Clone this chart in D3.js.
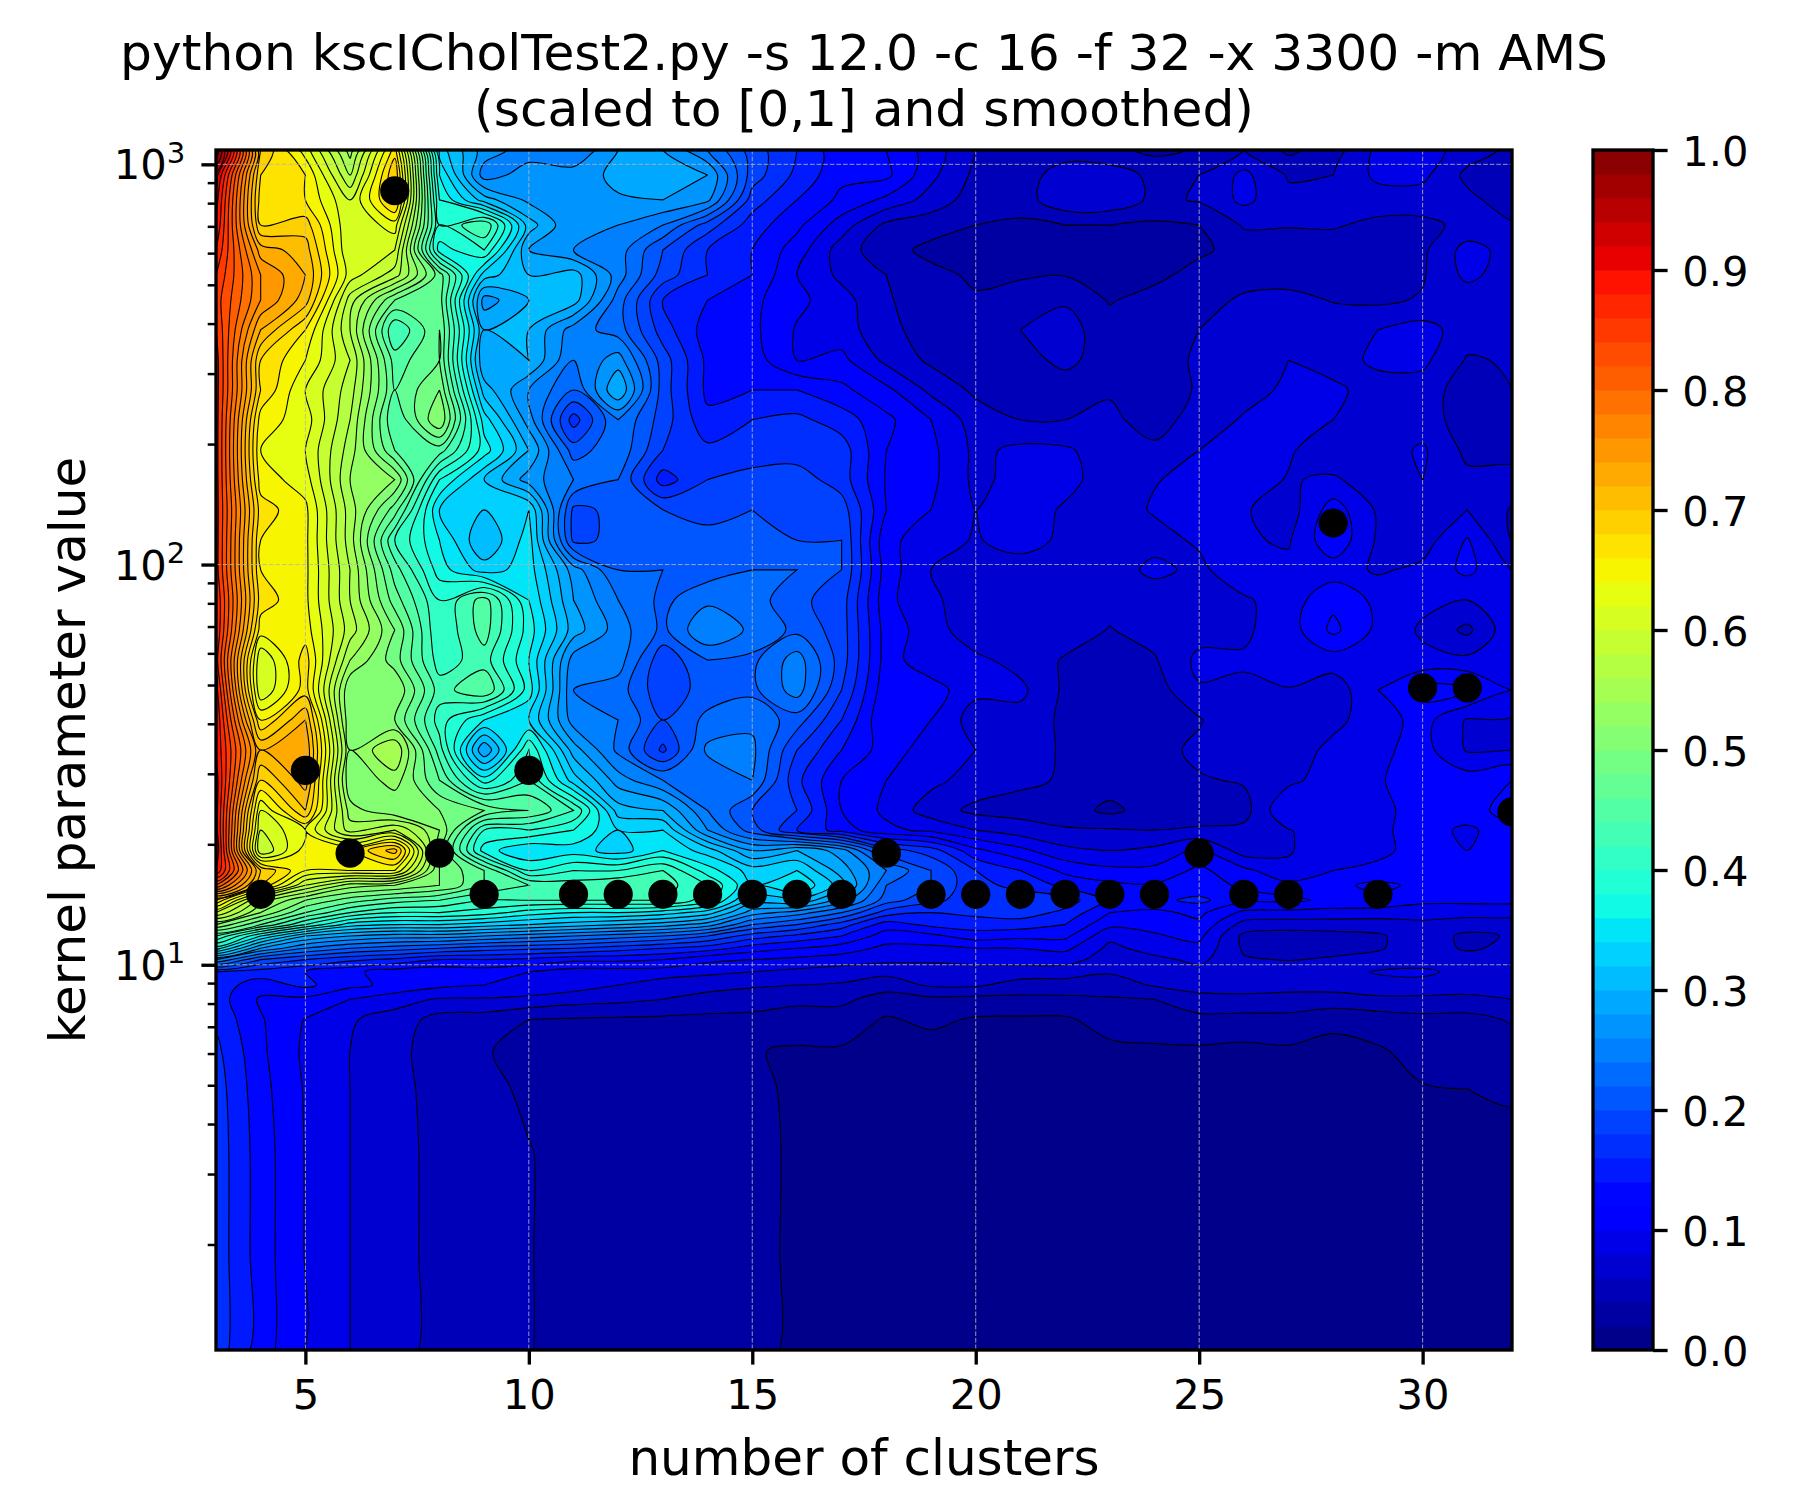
<!DOCTYPE html>
<html>
<head>
<meta charset="utf-8">
<script src="https://cdn.jsdelivr.net/npm/d3@7"></script>
<style>
html,body{margin:0;padding:0;background:#fff;}
svg{display:block;}
text{font-family:"DejaVu Sans",sans-serif;fill:#000;}
</style>
</head>
<body>
<svg id="chart" width="1800" height="1500"></svg>
<script>
// Number of clusters along the horizontal axis, one grid column each.
const clusterCounts = d3.range(3, 33);

// Kernel parameter value of every grid row, from the top of the plot down.
const kernelValues = [1086,940,815,705,611,529,458,386,324,273,230,193,163,137,115,97,81.5,68.6,57.7,48.6,40.9,34.4,28.9,24.3,21.7,19.3,17.2,15.8,14.5,13.5,12.6,11.8,11.0,10.3,9.6,8.9,8.2,7.3,6.1,4.9,3.4,1.94,1.09];

// Scaled score per kernel value (rows) and number of clusters (columns).
const scoreRows = [
[1.0,.70,.63,.53,.67,.33,.27,.25,.24,.28,.28,.24,.19,.16,.125,.12,.09,.06,.04,.05,.045,.035,.042,.06,.035,.05,.085,.09,.07,.055],
[.93,.68,.66,.56,.70,.36,.25,.27,.27,.285,.295,.28,.19,.155,.125,.125,.085,.055,.05,.07,.07,.055,.06,.085,.058,.06,.085,.085,.055,.05],
[.91,.67,.66,.60,.69,.38,.31,.275,.27,.278,.28,.265,.17,.14,.115,.095,.072,.05,.05,.075,.075,.055,.062,.085,.065,.07,.07,.07,.065,.05],
[.90,.68,.69,.60,.63,.40,.44,.31,.26,.26,.24,.19,.15,.125,.09,.055,.048,.04,.036,.04,.04,.037,.04,.062,.061,.062,.055,.055,.065,.062],
[.88,.73,.71,.60,.60,.37,.40,.28,.26,.25,.20,.16,.14,.11,.07,.047,.035,.03,.03,.03,.03,.03,.035,.05,.052,.05,.05,.056,.088,.072],
[.86,.76,.72,.61,.57,.47,.33,.30,.31,.25,.19,.16,.14,.10,.075,.06,.045,.037,.036,.039,.03,.033,.05,.055,.053,.05,.05,.058,.085,.07],
[.85,.76,.71,.57,.48,.47,.27,.30,.31,.23,.16,.14,.125,.105,.088,.062,.05,.042,.056,.058,.038,.05,.055,.062,.065,.059,.056,.062,.068,.064],
[.86,.72,.66,.56,.42,.48,.30,.30,.25,.23,.17,.13,.125,.098,.09,.065,.052,.05,.06,.067,.05,.05,.06,.072,.07,.07,.08,.088,.07,.068],
[.87,.68,.64,.58,.45,.48,.28,.30,.24,.27,.19,.135,.13,.10,.105,.075,.056,.052,.057,.062,.056,.054,.062,.07,.08,.07,.085,.085,.058,.062],
[.87,.68,.62,.57,.46,.50,.31,.26,.22,.30,.19,.135,.14,.14,.125,.105,.075,.056,.05,.056,.059,.05,.062,.07,.085,.085,.07,.07,.05,.06],
[.87,.65,.63,.56,.44,.52,.35,.27,.17,.24,.19,.145,.16,.165,.15,.125,.10,.07,.06,.06,.062,.056,.064,.083,.09,.08,.07,.07,.05,.06],
[.87,.64,.62,.55,.46,.45,.37,.30,.21,.235,.18,.165,.165,.17,.17,.12,.105,.075,.085,.083,.07,.062,.08,.085,.082,.07,.07,.083,.055,.05],
[.87,.65,.63,.54,.52,.38,.32,.27,.24,.22,.15,.18,.19,.19,.17,.118,.105,.075,.087,.085,.072,.079,.085,.087,.079,.082,.072,.08,.065,.07],
[.87,.67,.645,.55,.47,.34,.32,.34,.195,.205,.20,.19,.20,.19,.19,.12,.10,.08,.088,.078,.07,.082,.085,.082,.07,.11,.077,.078,.08,.058],
[.87,.66,.645,.55,.42,.36,.30,.35,.195,.205,.20,.21,.21,.20,.20,.105,.09,.078,.09,.075,.07,.073,.083,.082,.078,.115,.077,.07,.102,.06],
[.87,.66,.645,.56,.45,.37,.33,.35,.27,.22,.22,.21,.22,.22,.20,.11,.08,.065,.068,.079,.07,.085,.075,.095,.085,.09,.077,.085,.105,.08],
[.88,.67,.645,.56,.47,.40,.45,.36,.28,.24,.215,.235,.23,.205,.19,.105,.085,.066,.066,.068,.066,.068,.073,.077,.09,.115,.095,.085,.08,.10],
[.88,.65,.65,.57,.50,.40,.45,.37,.29,.25,.215,.26,.235,.215,.19,.11,.09,.066,.068,.07,.059,.068,.072,.077,.09,.125,.095,.077,.055,.095],
[.87,.60,.67,.54,.49,.41,.43,.36,.25,.25,.185,.22,.215,.25,.19,.11,.085,.085,.072,.058,.05,.058,.085,.082,.09,.09,.085,.085,.085,.085],
[.89,.60,.67,.50,.52,.43,.46,.37,.24,.23,.185,.21,.215,.25,.18,.105,.11,.085,.085,.056,.045,.05,.078,.077,.079,.068,.10,.128,.125,.10],
[.90,.66,.72,.50,.50,.41,.36,.34,.25,.24,.20,.225,.235,.21,.16,.10,.10,.07,.072,.056,.045,.048,.058,.08,.07,.075,.09,.108,.078,.078],
[.90,.72,.74,.52,.56,.43,.28,.40,.29,.235,.175,.245,.245,.18,.14,.11,.09,.08,.078,.055,.05,.052,.065,.072,.07,.085,.095,.108,.078,.08],
[.91,.68,.73,.50,.53,.46,.37,.42,.33,.27,.24,.22,.24,.165,.12,.10,.085,.072,.064,.058,.05,.05,.058,.062,.075,.09,.098,.11,.11,.12],
[.91,.62,.70,.53,.50,.50,.48,.46,.42,.31,.30,.24,.20,.18,.12,.095,.07,.055,.052,.05,.035,.05,.052,.052,.10,.09,.09,.115,.115,.125],
[.91,.60,.64,.55,.58,.52,.40,.40,.38,.34,.34,.26,.21,.16,.13,.105,.095,.08,.07,.062,.062,.06,.062,.065,.079,.09,.095,.11,.095,.115],
[.92,.58,.65,.66,.71,.50,.37,.34,.35,.33,.36,.33,.28,.30,.27,.19,.17,.125,.105,.085,.08,.085,.105,.07,.078,.095,.095,.108,.10,.11],
[.90,.70,.64,.64,.64,.50,.46,.38,.40,.40,.42,.37,.33,.34,.29,.24,.20,.16,.14,.115,.105,.105,.125,.105,.085,.10,.105,.11,.11,.115],
[.82,.68,.58,.53,.52,.50,.46,.44,.43,.44,.43,.40,.34,.36,.31,.22,.20,.165,.155,.135,.125,.122,.125,.118,.105,.115,.125,.115,.11,.11],
[.68,.55,.50,.47,.45,.44,.42,.42,.42,.42,.42,.39,.31,.32,.27,.21,.185,.17,.17,.17,.14,.135,.145,.125,.125,.115,.115,.105,.105,.105],
[.60,.52,.46,.42,.40,.40,.39,.37,.36,.36,.35,.33,.27,.25,.22,.17,.16,.165,.17,.155,.12,.115,.125,.095,.093,.092,.09,.088,.087,.087],
[.52,.46,.40,.35,.34,.34,.33,.32,.31,.30,.29,.27,.22,.20,.17,.13,.145,.15,.15,.14,.105,.105,.115,.072,.07,.07,.07,.075,.07,.07],
[.44,.36,.30,.28,.27,.27,.26,.25,.24,.23,.22,.20,.17,.155,.14,.11,.115,.13,.125,.125,.085,.098,.105,.055,.05,.053,.057,.072,.055,.062],
[.37,.28,.24,.22,.21,.20,.19,.185,.18,.17,.16,.15,.13,.12,.11,.095,.095,.10,.10,.105,.075,.088,.095,.057,.053,.055,.058,.07,.057,.065],
[.26,.20,.18,.165,.155,.14,.14,.135,.125,.125,.12,.105,.10,.095,.09,.085,.085,.085,.088,.088,.07,.075,.085,.062,.059,.062,.066,.072,.07,.07],
[.16,.15,.14,.125,.11,.105,.11,.10,.09,.09,.09,.085,.08,.075,.07,.065,.066,.073,.07,.07,.062,.072,.073,.07,.072,.072,.082,.083,.075,.072],
[.15,.13,.145,.125,.115,.105,.10,.095,.09,.08,.07,.065,.062,.06,.058,.05,.063,.063,.052,.05,.05,.062,.068,.068,.068,.068,.072,.075,.07,.068],
[.15,.117,.115,.10,.088,.078,.078,.075,.068,.065,.06,.055,.052,.045,.045,.03,.035,.033,.035,.036,.038,.04,.053,.055,.052,.052,.056,.055,.055,.06],
[.155,.122,.099,.082,.072,.052,.05,.04,.038,.037,.036,.034,.033,.03,.03,.018,.024,.018,.017,.017,.029,.03,.034,.033,.034,.025,.029,.034,.033,.042],
[.165,.124,.096,.08,.066,.05,.041,.036,.032,.03,.029,.025,.021,.018,.018,.012,.012,.012,.012,.012,.015,.017,.017,.015,.017,.014,.018,.026,.027,.03],
[.17,.127,.098,.08,.067,.052,.043,.038,.034,.031,.029,.026,.025,.016,.013,.011,.011,.011,.011,.011,.011,.011,.011,.011,.011,.011,.016,.019,.02,.022],
[.172,.13,.099,.08,.067,.054,.047,.0405,.036,.034,.031,.028,.0245,.0175,.012,.011,.011,.011,.011,.011,.011,.011,.011,.011,.011,.011,.011,.015,.015,.015],
[.172,.13,.099,.08,.067,.054,.048,.0405,.036,.034,.03,.027,.024,.0175,.015,.012,.011,.011,.011,.011,.011,.011,.011,.011,.011,.011,.011,.012,.012,.012],
[.172,.13,.099,.08,.067,.054,.048,.0405,.036,.034,.03,.027,.024,.0175,.015,.012,.011,.011,.011,.011,.011,.011,.011,.011,.011,.011,.011,.012,.012,.012]
];

// Best kernel value found for each number of clusters.
const bestClusters = [4,5,6,7,8,9,10,11,12,13,14,15,16,17,18,19,20,21,22,23,24,25,26,27,28,29,30,31,32];
const bestKernels = [15,30.6,19,859,19,15,30.6,15,15,15,15,15,15,15,19,15,15,15,15,15,15,19,15,15,127,15,49.2,49.2,24.1];

// Axis ticks and titles.
const xTickValues = [5,10,15,20,25,30];
const yMajorExponents = [1,2,3];
const yMinorValues = [2,3,4,5,6,7,8,9,20,30,40,50,60,70,80,90,200,300,400,500,600,700,800,900];
const barTickValues = [0,.1,.2,.3,.4,.5,.6,.7,.8,.9,1];
const titleLines = ["python kscICholTest2.py -s 12.0 -c 16 -f 32 -x 3300 -m AMS","(scaled to [0,1] and smoothed)"];
const xTitle = "number of clusters";
const yTitle = "kernel parameter value";

// Filled contour levels, fifty bands of width 0.02.
const bandCount = 50;

// Piecewise-linear definition of the jet colormap.
const jetR = d3.scaleLinear().domain([0,.35,.66,.89,1]).range([0,0,1,1,.5]);
const jetG = d3.scaleLinear().domain([0,.125,.375,.64,.91,1]).range([0,0,1,1,0,0]);
const jetB = d3.scaleLinear().domain([0,.11,.34,.65,1]).range([.5,1,1,0,0]);
const jet = v => d3.rgb(jetR(v)*255, jetG(v)*255, jetB(v)*255).formatHex();
const bandColor = i => jet((i + .5) / bandCount);

const plot = {left:216, right:1512, top:150, bottom:1350};
const bar = {left:1593, right:1653};
const tickFont = 41.67, labelFont = 50;
const spineWidth = 3.33, majorLen = 14.6, minorLen = 8.3, minorWidth = 2.5;

const svg = d3.select("#chart");
const x = d3.scaleLinear().domain([3,32]).range([plot.left, plot.right]);
const y = d3.scaleLog().domain([1.09,1086]).range([plot.bottom, plot.top]);
const barY = d3.scaleLinear().domain([0,1]).range([plot.bottom, plot.top]);

svg.append("defs").append("clipPath").attr("id","plotClip")
  .append("rect").attr("x",plot.left).attr("y",plot.top)
  .attr("width",plot.right-plot.left).attr("height",plot.bottom-plot.top);

// d3.contours places sample i at i + 0.5, so map those grid coordinates back to data.
const nCols = clusterCounts.length, nRows = kernelValues.length;
const colToCluster = d3.scaleLinear().domain(clusterCounts.map((_,i)=>i+.5)).range(clusterCounts);
const rowToLogKernel = d3.scaleLinear().domain(kernelValues.map((_,i)=>i+.5)).range(kernelValues.map(Math.log10));
const ringLine = d3.line()
  .x(p => x(colToCluster(p[0])))
  .y(p => y(Math.pow(10, rowToLogKernel(p[1]))))
  .curve(d3.curveCatmullRomClosed.alpha(.5));

const contourGen = d3.contours().size([nCols,nRows]).smooth(true);
const flatScores = scoreRows.flat();
const levels = d3.range(1,bandCount).map(i => i/bandCount);
const layers = levels.map(t => contourGen.contour(flatScores,t));
const layerPath = layer => layer.coordinates
  .flatMap(poly => poly.map(ring => ringLine(ring.slice(0,-1)))).join("");

const field = svg.append("g").attr("clip-path","url(#plotClip)");
field.append("rect").attr("x",plot.left).attr("y",plot.top)
  .attr("width",plot.right-plot.left).attr("height",plot.bottom-plot.top)
  .attr("fill",bandColor(0));
field.selectAll("path.band").data(layers).join("path").attr("class","band")
  .attr("d",layerPath).attr("fill",(d,i)=>bandColor(i+1)).attr("fill-rule","evenodd");
field.selectAll("path.iso").data(layers).join("path").attr("class","iso")
  .attr("d",layerPath).attr("fill","none").attr("stroke","#000").attr("stroke-width",1.1);

// Dashed grid at the major ticks.
const gridStyle = s => s.attr("stroke","#b4b4b4").attr("stroke-width",.85).attr("stroke-dasharray","4.6,2");
field.selectAll("line.gx").data(xTickValues).join("line").attr("class","gx")
  .attr("x1",d=>x(d)).attr("x2",d=>x(d)).attr("y1",plot.top).attr("y2",plot.bottom).call(gridStyle);
field.selectAll("line.gy").data(yMajorExponents).join("line").attr("class","gy")
  .attr("x1",plot.left).attr("x2",plot.right).attr("y1",d=>y(10**d)).attr("y2",d=>y(10**d)).call(gridStyle);

// Best kernel per cluster count.
field.selectAll("circle").data(bestClusters).join("circle")
  .attr("cx",d=>x(d)).attr("cy",(d,i)=>y(bestKernels[i])).attr("r",14.6).attr("fill","#000");

// Frame.
const frame = (l,r) => svg.append("rect").attr("x",l).attr("y",plot.top)
  .attr("width",r-l).attr("height",plot.bottom-plot.top)
  .attr("fill","none").attr("stroke","#000").attr("stroke-width",spineWidth);
frame(plot.left,plot.right);

const styleAxis = (g,w) => {
  g.select(".domain").remove();
  g.selectAll(".tick line").attr("stroke","#000").attr("stroke-width",w);
};

// Horizontal axis.
const xAxis = svg.append("g").attr("transform",`translate(0,${plot.bottom})`)
  .call(d3.axisBottom(x).tickValues(xTickValues).tickSize(majorLen).tickPadding(14.6).tickFormat(d3.format("d")));
styleAxis(xAxis,spineWidth);
xAxis.selectAll("text").attr("font-size",tickFont).attr("font-family","DejaVu Sans").attr("fill","#000");

// Logarithmic vertical axis with minor ticks and power-of-ten labels.
const yMinor = svg.append("g").attr("transform",`translate(${plot.left},0)`)
  .call(d3.axisLeft(y).tickValues(yMinorValues).tickSize(minorLen).tickFormat(""));
styleAxis(yMinor,minorWidth);
const yMajor = svg.append("g").attr("transform",`translate(${plot.left},0)`)
  .call(d3.axisLeft(y).tickValues(yMajorExponents.map(e=>10**e)).tickSize(majorLen).tickFormat(""));
styleAxis(yMajor,spineWidth);
const yLabels = svg.append("g").selectAll("text").data(yMajorExponents).join("text")
  .attr("x",plot.left-majorLen-16).attr("y",d=>y(10**d)+15).attr("text-anchor","end").attr("font-size",tickFont);
yLabels.append("tspan").text("10");
yLabels.append("tspan").attr("dy",-16.5).attr("font-size",tickFont*.7).text(d=>d);

// Colorbar, one rectangle per band.
svg.append("g").selectAll("rect").data(d3.range(bandCount)).join("rect")
  .attr("x",bar.left).attr("width",bar.right-bar.left)
  .attr("y",i=>barY((i+1)/bandCount)).attr("height",i=>barY(i/bandCount)-barY((i+1)/bandCount)+.4)
  .attr("fill",i=>bandColor(i));
frame(bar.left,bar.right);
const barAxis = svg.append("g").attr("transform",`translate(${bar.right},0)`)
  .call(d3.axisRight(barY).tickValues(barTickValues).tickSize(majorLen).tickPadding(14.6).tickFormat(d3.format(".1f")));
styleAxis(barAxis,spineWidth);
barAxis.selectAll("text").attr("font-size",tickFont).attr("font-family","DejaVu Sans").attr("fill","#000").attr("dy",".37em");

// Titles.
const centre = (plot.left+plot.right)/2;
svg.append("g").selectAll("text").data(titleLines).join("text")
  .attr("x",centre).attr("y",(d,i)=>70+i*55.5).attr("text-anchor","middle").attr("font-size",50.27).text(d=>d);
svg.append("text").attr("x",centre).attr("y",1475).attr("text-anchor","middle").attr("font-size",labelFont).text(xTitle);
svg.append("text").attr("transform",`translate(85,${(plot.top+plot.bottom)/2}) rotate(-90)`)
  .attr("text-anchor","middle").attr("font-size",labelFont).text(yTitle);
</script>
</body>
</html>
